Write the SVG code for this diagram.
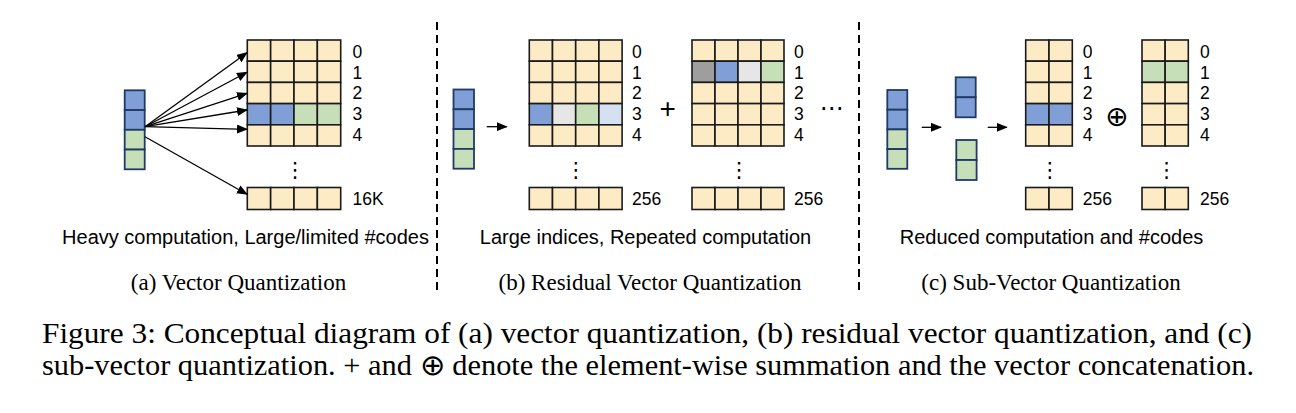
<svg xmlns="http://www.w3.org/2000/svg" width="1296" height="413" viewBox="0 0 1296 413">
<defs>
<marker id="ah" markerWidth="11" markerHeight="9" refX="10" refY="4.5" orient="auto" markerUnits="userSpaceOnUse">
<path d="M0,0 L11,4.5 L0,9 Z" fill="#000"/>
</marker>
<style>
.c{fill:#fdebc6;stroke:#1a1a1a;stroke-width:1.6}
.b{fill:#7f9fd6}
.g{fill:#c7dfb8}
.lg{fill:#e6e6e6}
.lb{fill:#d5e0f1}
.gy{fill:#9e9e9e}
.v{stroke:#1f3a66;stroke-width:1.8}
.lbl{font-family:"Liberation Sans",Arial,sans-serif;font-size:17.5px;fill:#000}
.sub{font-family:"Liberation Sans",Arial,sans-serif;font-size:20px;fill:#000;text-anchor:middle}
.cap{font-family:"Liberation Serif","Times New Roman",serif;font-size:23px;fill:#000;text-anchor:middle}
.fig{font-family:"Liberation Serif","Times New Roman",serif;font-size:29px;fill:#000}
.dots{font-family:"DejaVu Sans",sans-serif;font-size:21px;fill:#000;text-anchor:middle}
.arr{stroke:#000;stroke-width:1.3;fill:none;marker-end:url(#ah)}
.dash{stroke:#000;stroke-width:2;stroke-dasharray:8,5}
</style>
</defs>
<rect width="1296" height="413" fill="#fff"/>

<g id="separators">
<line class="dash" x1="437" y1="22" x2="437" y2="292"/>
<line class="dash" x1="859" y1="22" x2="859" y2="292"/>
</g>

<!-- Panel a -->
<g id="a-input">
<rect class="v b" x="124.7" y="90.3" width="20" height="19.75"/>
<rect class="v b" x="124.7" y="110.05" width="20" height="19.75"/>
<rect class="v g" x="124.7" y="129.8" width="20" height="19.75"/>
<rect class="v g" x="124.7" y="149.55" width="20" height="19.75"/>
</g>
<g id="a-codebook">
<g class="c">
<rect x="247.3" y="40" width="23.35" height="21.2"/><rect x="270.65" y="40" width="23.35" height="21.2"/><rect x="294" y="40" width="23.35" height="21.2"/><rect x="317.35" y="40" width="23.35" height="21.2"/>
<rect x="247.3" y="61.2" width="23.35" height="21.2"/><rect x="270.65" y="61.2" width="23.35" height="21.2"/><rect x="294" y="61.2" width="23.35" height="21.2"/><rect x="317.35" y="61.2" width="23.35" height="21.2"/>
<rect x="247.3" y="82.4" width="23.35" height="21.2"/><rect x="270.65" y="82.4" width="23.35" height="21.2"/><rect x="294" y="82.4" width="23.35" height="21.2"/><rect x="317.35" y="82.4" width="23.35" height="21.2"/>
<rect class="b" x="247.3" y="103.6" width="23.35" height="21.2"/><rect class="b" x="270.65" y="103.6" width="23.35" height="21.2"/><rect class="g" x="294" y="103.6" width="23.35" height="21.2"/><rect class="g" x="317.35" y="103.6" width="23.35" height="21.2"/>
<rect x="247.3" y="124.8" width="23.35" height="21.2"/><rect x="270.65" y="124.8" width="23.35" height="21.2"/><rect x="294" y="124.8" width="23.35" height="21.2"/><rect x="317.35" y="124.8" width="23.35" height="21.2"/>
<rect x="247.3" y="187.5" width="23.35" height="22"/><rect x="270.65" y="187.5" width="23.35" height="22"/><rect x="294" y="187.5" width="23.35" height="22"/><rect x="317.35" y="187.5" width="23.35" height="22"/>
</g>
<text class="lbl" x="352.5" y="58.3">0</text>
<text class="lbl" x="352.5" y="78.5">1</text>
<text class="lbl" x="352.5" y="99">2</text>
<text class="lbl" x="352.5" y="119.8">3</text>
<text class="lbl" x="352.5" y="140.5">4</text>
<text class="lbl" x="352.5" y="204.5">16K</text>
<text class="dots" x="295.3" y="177">⋮</text>
</g>
<g id="a-connectors">
<line class="arr" x1="145" y1="126.7" x2="247" y2="52.7"/>
<line class="arr" x1="145" y1="126.7" x2="247" y2="72.3"/>
<line class="arr" x1="145" y1="126.7" x2="247" y2="93.3"/>
<line class="arr" x1="145" y1="126.7" x2="247" y2="110"/>
<line class="arr" x1="145" y1="126.7" x2="247" y2="129.3"/>
<line class="arr" x1="145" y1="136.7" x2="247" y2="194.3"/>
</g>
<g id="a-text">
<text class="sub" x="245.5" y="244">Heavy computation, Large/limited #codes</text>
<text class="cap" x="238.5" y="290">(a) Vector Quantization</text>
</g>

<!-- Panel b -->
<g id="b-input">
<rect class="v b" x="453.5" y="89.5" width="20.5" height="19.8"/>
<rect class="v b" x="453.5" y="109.3" width="20.5" height="19.8"/>
<rect class="v g" x="453.5" y="129.1" width="20.5" height="19.8"/>
<rect class="v g" x="453.5" y="148.9" width="20.5" height="19.8"/>
</g>
<g id="b-arrow">
<line class="arr" x1="486.7" y1="126.7" x2="506.7" y2="126.7"/>
</g>
<g id="b-codebook1">
<g class="c">
<rect x="529.3" y="40" width="23.2" height="21.2"/><rect x="552.5" y="40" width="23.2" height="21.2"/><rect x="575.7" y="40" width="23.2" height="21.2"/><rect x="598.9" y="40" width="23.2" height="21.2"/>
<rect x="529.3" y="61.2" width="23.2" height="21.2"/><rect x="552.5" y="61.2" width="23.2" height="21.2"/><rect x="575.7" y="61.2" width="23.2" height="21.2"/><rect x="598.9" y="61.2" width="23.2" height="21.2"/>
<rect x="529.3" y="82.4" width="23.2" height="21.2"/><rect x="552.5" y="82.4" width="23.2" height="21.2"/><rect x="575.7" y="82.4" width="23.2" height="21.2"/><rect x="598.9" y="82.4" width="23.2" height="21.2"/>
<rect class="b" x="529.3" y="103.6" width="23.2" height="21.2"/><rect class="lg" x="552.5" y="103.6" width="23.2" height="21.2"/><rect class="g" x="575.7" y="103.6" width="23.2" height="21.2"/><rect class="lb" x="598.9" y="103.6" width="23.2" height="21.2"/>
<rect x="529.3" y="124.8" width="23.2" height="21.2"/><rect x="552.5" y="124.8" width="23.2" height="21.2"/><rect x="575.7" y="124.8" width="23.2" height="21.2"/><rect x="598.9" y="124.8" width="23.2" height="21.2"/>
<rect x="529.3" y="187.5" width="23.2" height="22"/><rect x="552.5" y="187.5" width="23.2" height="22"/><rect x="575.7" y="187.5" width="23.2" height="22"/><rect x="598.9" y="187.5" width="23.2" height="22"/>
</g>
<text class="lbl" x="632" y="58.3">0</text>
<text class="lbl" x="632" y="78.5">1</text>
<text class="lbl" x="632" y="99">2</text>
<text class="lbl" x="632" y="119.8">3</text>
<text class="lbl" x="632" y="140.5">4</text>
<text class="lbl" x="632" y="204.5">256</text>
<text class="dots" x="576" y="177">⋮</text>
</g>
<g id="b-plus">
<text style="font-family:'Liberation Sans',Arial,sans-serif;font-size:28px;text-anchor:middle" x="667.7" y="118">+</text>
</g>
<g id="b-codebook2">
<g class="c">
<rect x="692" y="40" width="23" height="21.2"/><rect x="715" y="40" width="23" height="21.2"/><rect x="738" y="40" width="23" height="21.2"/><rect x="761" y="40" width="23" height="21.2"/>
<rect class="gy" x="692" y="61.2" width="23" height="21.2"/><rect class="b" x="715" y="61.2" width="23" height="21.2"/><rect class="lg" x="738" y="61.2" width="23" height="21.2"/><rect class="g" x="761" y="61.2" width="23" height="21.2"/>
<rect x="692" y="82.4" width="23" height="21.2"/><rect x="715" y="82.4" width="23" height="21.2"/><rect x="738" y="82.4" width="23" height="21.2"/><rect x="761" y="82.4" width="23" height="21.2"/>
<rect x="692" y="103.6" width="23" height="21.2"/><rect x="715" y="103.6" width="23" height="21.2"/><rect x="738" y="103.6" width="23" height="21.2"/><rect x="761" y="103.6" width="23" height="21.2"/>
<rect x="692" y="124.8" width="23" height="21.2"/><rect x="715" y="124.8" width="23" height="21.2"/><rect x="738" y="124.8" width="23" height="21.2"/><rect x="761" y="124.8" width="23" height="21.2"/>
<rect x="692" y="187.5" width="23" height="22"/><rect x="715" y="187.5" width="23" height="22"/><rect x="738" y="187.5" width="23" height="22"/><rect x="761" y="187.5" width="23" height="22"/>
</g>
<text class="lbl" x="794" y="58.3">0</text>
<text class="lbl" x="794" y="78.5">1</text>
<text class="lbl" x="794" y="99">2</text>
<text class="lbl" x="794" y="119.8">3</text>
<text class="lbl" x="794" y="140.5">4</text>
<text class="lbl" x="794" y="204.5">256</text>
<text class="dots" x="739.3" y="177">⋮</text>
</g>
<g id="b-ellipsis">
<text class="dots" style="font-size:24px" x="831.7" y="116">⋯</text>
</g>
<g id="b-text">
<text class="sub" x="645.5" y="244">Large indices, Repeated computation</text>
<text class="cap" x="650" y="290">(b) Residual Vector Quantization</text>
</g>

<!-- Panel c -->
<g id="c-input">
<rect class="v b" x="887.3" y="90" width="20" height="19.7"/>
<rect class="v b" x="887.3" y="109.7" width="20" height="19.7"/>
<rect class="v g" x="887.3" y="129.4" width="20" height="19.7"/>
<rect class="v g" x="887.3" y="149.1" width="20" height="19.7"/>
</g>
<g id="c-split">
<rect class="v b" x="955.7" y="77.3" width="20" height="20"/>
<rect class="v b" x="955.7" y="97.3" width="20" height="20"/>
<rect class="v g" x="956.3" y="140" width="20.3" height="20"/>
<rect class="v g" x="956.3" y="160" width="20.3" height="20"/>
</g>
<g id="c-arrows">
<line class="arr" x1="921.7" y1="127.3" x2="941" y2="127.3"/>
<line class="arr" x1="987.7" y1="127.3" x2="1006.7" y2="127.3"/>
</g>
<g id="c-codebook1">
<g class="c">
<rect x="1025.7" y="40" width="23.3" height="21.2"/><rect x="1049" y="40" width="23.3" height="21.2"/>
<rect x="1025.7" y="61.2" width="23.3" height="21.2"/><rect x="1049" y="61.2" width="23.3" height="21.2"/>
<rect x="1025.7" y="82.4" width="23.3" height="21.2"/><rect x="1049" y="82.4" width="23.3" height="21.2"/>
<rect class="b" x="1025.7" y="103.6" width="23.3" height="21.2"/><rect class="b" x="1049" y="103.6" width="23.3" height="21.2"/>
<rect x="1025.7" y="124.8" width="23.3" height="21.2"/><rect x="1049" y="124.8" width="23.3" height="21.2"/>
<rect x="1025.7" y="187.5" width="23.3" height="22"/><rect x="1049" y="187.5" width="23.3" height="22"/>
</g>
<text class="lbl" x="1082.7" y="58.3">0</text>
<text class="lbl" x="1082.7" y="78.5">1</text>
<text class="lbl" x="1082.7" y="99">2</text>
<text class="lbl" x="1082.7" y="119.8">3</text>
<text class="lbl" x="1082.7" y="140.5">4</text>
<text class="lbl" x="1082.7" y="204.5">256</text>
<text class="dots" x="1050" y="177">⋮</text>
</g>
<g id="c-concat">
<text style="font-family:'DejaVu Sans',sans-serif;font-size:28px;text-anchor:middle" x="1116.7" y="126">⊕</text>
</g>
<g id="c-codebook2">
<g class="c">
<rect x="1142" y="40" width="23.15" height="21.2"/><rect x="1165.15" y="40" width="23.15" height="21.2"/>
<rect class="g" x="1142" y="61.2" width="23.15" height="21.2"/><rect class="g" x="1165.15" y="61.2" width="23.15" height="21.2"/>
<rect x="1142" y="82.4" width="23.15" height="21.2"/><rect x="1165.15" y="82.4" width="23.15" height="21.2"/>
<rect x="1142" y="103.6" width="23.15" height="21.2"/><rect x="1165.15" y="103.6" width="23.15" height="21.2"/>
<rect x="1142" y="124.8" width="23.15" height="21.2"/><rect x="1165.15" y="124.8" width="23.15" height="21.2"/>
<rect x="1142" y="187.5" width="23.15" height="22"/><rect x="1165.15" y="187.5" width="23.15" height="22"/>
</g>
<text class="lbl" x="1200" y="58.3">0</text>
<text class="lbl" x="1200" y="78.5">1</text>
<text class="lbl" x="1200" y="99">2</text>
<text class="lbl" x="1200" y="119.8">3</text>
<text class="lbl" x="1200" y="140.5">4</text>
<text class="lbl" x="1200" y="204.5">256</text>
<text class="dots" x="1166.7" y="177">⋮</text>
</g>
<g id="c-text">
<text class="sub" x="1051.5" y="244">Reduced computation and #codes</text>
<text class="cap" x="1051" y="290">(c) Sub-Vector Quantization</text>
</g>

<g id="figure-caption">
<text class="fig" x="42" y="343" textLength="1210" lengthAdjust="spacingAndGlyphs">Figure 3: Conceptual diagram of (a) vector quantization, (b) residual vector quantization, and (c)</text>
<text class="fig" x="42" y="375" textLength="1212" lengthAdjust="spacingAndGlyphs">sub-vector quantization. + and ⊕ denote the element-wise summation and the vector concatenation.</text>
</g>
</svg>
